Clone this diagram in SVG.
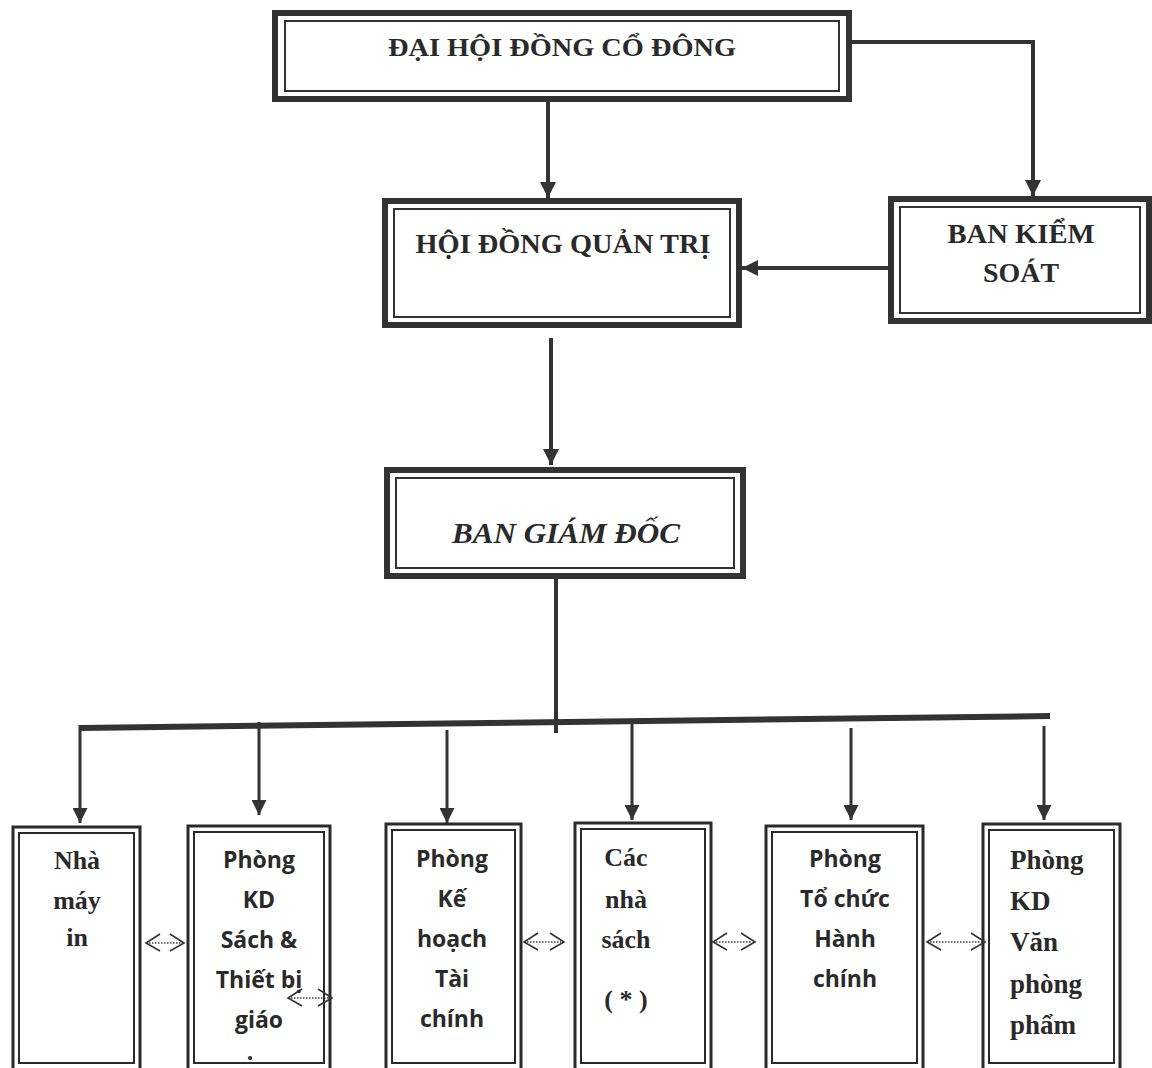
<svg xmlns="http://www.w3.org/2000/svg" width="1152" height="1068" viewBox="0 0 1152 1068">
<style>
.outer{fill:#fff;stroke:#333;stroke-width:6}
.inner{fill:none;stroke:#333;stroke-width:2}
.bout{fill:#fff;stroke:#2a2a2a;stroke-width:3}
.bin{fill:none;stroke:#2a2a2a;stroke-width:2}
.ts{font-family:"Liberation Serif","Times New Roman",serif;font-weight:bold;fill:#2a2a2a;text-anchor:middle}
.tl{font-family:"Liberation Serif","Times New Roman",serif;font-weight:bold;fill:#2a2a2a;text-anchor:start;font-size:27px}
.tsa{font-family:"Open Sans","Noto Sans",sans-serif;font-weight:bold;fill:#2a2a2a;text-anchor:middle;font-size:23px}
.conn{stroke:#333;stroke-width:4;fill:none}
.drop{stroke:#333;stroke-width:3;fill:none}
.dot{stroke:#444;stroke-width:1.5;stroke-dasharray:1.5 1.5;fill:none}
.chev{stroke:#333;stroke-width:1.6;fill:none}
</style>
<defs>
<marker id="ah" viewBox="0 0 10 10" refX="10" refY="5" markerWidth="4" markerHeight="4" orient="auto" markerUnits="strokeWidth">
<path d="M0,0 L10,5 L0,10 Z" fill="#333"/>
</marker>
<marker id="ah2" viewBox="0 0 10 10" refX="10" refY="5" markerWidth="5" markerHeight="5" orient="auto" markerUnits="strokeWidth">
<path d="M0,0 L10,5 L0,10 Z" fill="#333"/>
</marker>
</defs>

<g id="dhdcd">
<rect class="outer" x="275" y="13" width="574" height="86"/>
<rect class="inner" x="285" y="21" width="554" height="70"/>
<text class="ts" x="562" y="56" font-size="26" textLength="348" lengthAdjust="spacingAndGlyphs">ĐẠI HỘI ĐỒNG CỔ ĐÔNG</text>
</g>

<g id="hdqt">
<rect class="outer" x="385" y="201" width="354" height="124"/>
<rect class="inner" x="394" y="209" width="336" height="108"/>
<text class="ts" x="563" y="253" font-size="27" textLength="295" lengthAdjust="spacingAndGlyphs">HỘI ĐỒNG QUẢN TRỊ</text>
</g>

<g id="bks">
<rect class="outer" x="891" y="199" width="258" height="122"/>
<rect class="inner" x="900" y="207" width="240" height="106"/>
<text class="ts" x="1021" y="243" font-size="27" textLength="147" lengthAdjust="spacingAndGlyphs">BAN KIỂM</text>
<text class="ts" x="1021" y="282" font-size="27" textLength="76" lengthAdjust="spacingAndGlyphs">SOÁT</text>
</g>

<g id="bgd">
<rect class="outer" x="387" y="470" width="356" height="106"/>
<rect class="inner" x="396" y="478" width="338" height="90"/>
<text class="ts" x="566" y="543" font-size="29" font-style="italic" textLength="228" lengthAdjust="spacingAndGlyphs">BAN GIÁM ĐỐC</text>
</g>

<g id="nhamay">
<rect class="bout" x="13" y="827" width="127" height="250"/>
<rect class="bin" x="19" y="833" width="115" height="230"/>
<text class="ts" font-size="26" x="77" y="869">Nhà</text>
<text class="ts" font-size="26" x="77" y="909">máy</text>
<text class="ts" font-size="26" x="77" y="946">in</text>
</g>

<g id="kdsach">
<rect class="bout" x="188" y="826" width="142" height="250"/>
<rect class="bin" x="194" y="832" width="130" height="231"/>
<text class="tsa" x="259" y="868">Phòng</text>
<text class="tsa" x="259" y="908">KD</text>
<text class="tsa" x="259" y="948">Sách &amp;</text>
<text class="tsa" x="259" y="988">Thiết bị</text>
<text class="tsa" x="259" y="1028">giáo</text>
<text class="tsa" x="250" y="1060">.</text>
</g>

<g id="khtc">
<rect class="bout" x="386" y="824" width="135" height="250"/>
<rect class="bin" x="392" y="830" width="123" height="233"/>
<text class="tsa" x="452" y="867">Phòng</text>
<text class="tsa" x="452" y="907">Kế</text>
<text class="tsa" x="452" y="947">hoạch</text>
<text class="tsa" x="452" y="987">Tài</text>
<text class="tsa" x="452" y="1027">chính</text>
</g>

<g id="nhasach">
<rect class="bout" x="575" y="823" width="136" height="250"/>
<rect class="bin" x="581" y="829" width="124" height="234"/>
<text class="ts" font-size="26" x="626" y="866">Các</text>
<text class="ts" font-size="26" x="626" y="908">nhà</text>
<text class="ts" font-size="26" x="626" y="948">sách</text>
<text class="ts" font-size="26" x="626" y="1008">( * )</text>
</g>

<g id="tchc">
<rect class="bout" x="766" y="826" width="157" height="250"/>
<rect class="bin" x="772" y="832" width="145" height="231"/>
<text class="tsa" x="845" y="867">Phòng</text>
<text class="tsa" x="845" y="907">Tổ chức</text>
<text class="tsa" x="845" y="947">Hành</text>
<text class="tsa" x="845" y="987">chính</text>
</g>

<g id="kdvpp">
<rect class="bout" x="983" y="824" width="137" height="250"/>
<rect class="bin" x="989" y="830" width="125" height="233"/>
<text class="tl" x="1010" y="869">Phòng</text>
<text class="tl" x="1010" y="910">KD</text>
<text class="tl" x="1010" y="951">Văn</text>
<text class="tl" x="1010" y="993">phòng</text>
<text class="tl" x="1010" y="1034">phẩm</text>
</g>

<g id="connectors">
<path class="conn" d="M548,100 V198" marker-end="url(#ah)"/>
<path class="conn" d="M850,42 H1033 V196" marker-end="url(#ah)"/>
<path class="conn" d="M888,268 H742" marker-end="url(#ah)"/>
<path class="conn" d="M551,338 V465" marker-end="url(#ah)"/>
<path class="conn" d="M556,578 V733"/>
<path d="M80,728 L1050,716" stroke="#333" stroke-width="6" fill="none"/>
<path class="drop" d="M80,725 V823" marker-end="url(#ah2)"/>
<path class="drop" d="M259,722 V815" marker-end="url(#ah2)"/>
<path class="drop" d="M447,730 V823" marker-end="url(#ah2)"/>
<path class="drop" d="M632,724 V820" marker-end="url(#ah2)"/>
<path class="drop" d="M851,728 V820" marker-end="url(#ah2)"/>
<path class="drop" d="M1044,726 V820" marker-end="url(#ah2)"/>
<g id="dbl1"><path class="dot" d="M149,943 H181"/><path class="chev" d="M160,934 L146,943 L160,951 M170,934 L184,943 L170,951"/></g>
<g id="dbl2"><path class="dot" d="M291,998 H329"/><path class="chev" d="M302,989 L288,998 L302,1006 M318,989 L332,998 L318,1006"/></g>
<g id="dbl3"><path class="dot" d="M527,942 H561"/><path class="chev" d="M538,933 L524,942 L538,950 M550,933 L564,942 L550,950"/></g>
<g id="dbl4"><path class="dot" d="M716,942 H752"/><path class="chev" d="M727,933 L713,942 L727,950 M741,933 L755,942 L741,950"/></g>
<g id="dbl5"><path class="dot" d="M930,942 H982"/><path class="chev" d="M941,933 L927,942 L941,950 M971,933 L985,942 L971,950"/></g>
</g>
</svg>
